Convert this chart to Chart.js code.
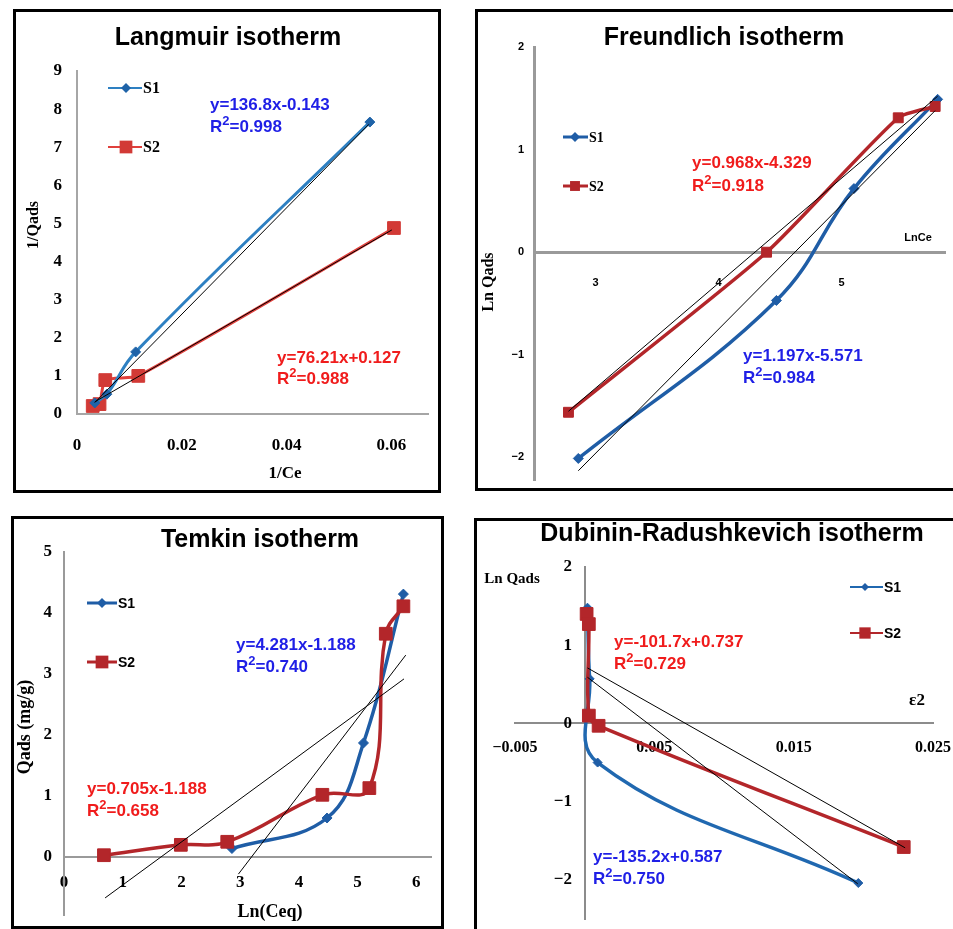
<!DOCTYPE html>
<html><head><meta charset="utf-8">
<script src="https://cdn.jsdelivr.net/npm/chart.js@4.4.1/dist/chart.umd.min.js"></script>
<style>
html,body{margin:0;padding:0;background:#fff;}
body{width:953px;height:929px;position:relative;overflow:hidden;}
.frame{position:absolute;border:3px solid #000;box-sizing:border-box;}
canvas{position:absolute;}
</style></head><body>
<div class="frame" style="left:13px;top:9px;width:428px;height:484px"></div>
<div class="frame" style="left:475px;top:9px;width:490px;height:482px"></div>
<div class="frame" style="left:11px;top:516px;width:433px;height:413px"></div>
<div class="frame" style="left:474px;top:518px;width:490px;height:420px"></div>
<canvas id="c1" width="422" height="478" style="left:16px;top:12px"></canvas>
<canvas id="c2" width="475" height="476" style="left:478px;top:12px"></canvas>
<canvas id="c3" width="427" height="407" style="left:14px;top:519px"></canvas>
<canvas id="c4" width="476" height="408" style="left:477px;top:521px"></canvas>
<script>
// ---------- DATA ----------
// Langmuir: 1/Ce vs 1/Qads
const lang_S1_x = [0.0034, 0.0057, 0.0112, 0.0559];
const lang_S1_y = [0.29, 0.52, 1.63, 7.66];
const lang_S2_x = [0.0030, 0.0043, 0.0054, 0.0117, 0.0605];
const lang_S2_y = [0.21, 0.26, 0.89, 1.00, 4.88];
const lang_fit1_x = [0.0034, 0.0557];
const lang_fit1_y = [0.30, 7.60];
const lang_fit2_x = [0.0034, 0.0601];
const lang_fit2_y = [0.32, 4.83];
const lang_xticks = [0, 0.02, 0.04, 0.06];
const lang_yticks = [0, 1, 2, 3, 4, 5, 6, 7, 8, 9];

// Freundlich: LnCe vs Ln Qads
const fr_S1_x = [2.86, 4.47, 5.10, 5.78];
const fr_S1_y = [-2.01, -0.47, 0.62, 1.49];
const fr_S2_x = [2.78, 4.39, 5.46, 5.76];
const fr_S2_y = [-1.56, 0.00, 1.31, 1.42];
const fr_fit1_x = [2.86, 5.76];
const fr_fit1_y = [-2.13, 1.38];
const fr_fit2_x = [2.78, 5.78];
const fr_fit2_y = [-1.55, 1.52];
const fr_xticks = [3, 4, 5];
const fr_yticks = [-2, -1, 0, 1, 2];

// Temkin: Ln(Ceq) vs Qads (mg/g)
const tk_S1_x = [2.86, 4.48, 5.10, 5.78];
const tk_S1_y = [0.14, 0.64, 1.87, 4.31];
const tk_S2_x = [0.68, 1.99, 2.78, 4.40, 5.20, 5.48, 5.78];
const tk_S2_y = [0.03, 0.20, 0.25, 1.02, 1.13, 3.66, 4.11];
const tk_fitA_x = [0.70, 5.79];
const tk_fitA_y = [-0.67, 2.92];
const tk_fitB_x = [2.97, 5.82];
const tk_fitB_y = [-0.28, 3.31];
const tk_xticks = [0, 1, 2, 3, 4, 5, 6];
const tk_yticks = [0, 1, 2, 3, 4, 5];

// Dubinin-Radushkevich: eps^2 vs Ln Qads
const dr_S1_x = [0.0002, 0.00036, 0.00093, 0.01964];
const dr_S1_y = [1.48, 0.57, -0.50, -2.04];
const dr_S2_x = [0.00014, 0.0003, 0.0003, 0.0010, 0.0229];
const dr_S2_y = [1.40, 1.27, 0.10, -0.03, -1.58];
const dr_fit1_x = [0.0002, 0.0196];
const dr_fit1_y = [0.59, -2.05];
const dr_fit2_x = [0.0002, 0.0230];
const dr_fit2_y = [0.71, -1.59];
const dr_xticks = [-0.005, 0.005, 0.015, 0.025];
const dr_yticks = [-2, -1, 0, 1, 2];

// ---------- helpers ----------
const SERIF = '"Liberation Serif", "Times New Roman", serif';
const SANS = '"Liberation Sans", Arial, sans-serif';
const BLUE_TXT = '#1f1fe6', RED_TXT = '#f01c1c';
const pts = (xs, ys) => xs.map((x, i) => ({x, y: ys[i]}));
const fmt = v => String(+Number(v).toFixed(4)).replace('-', '\u2212');

function series(label, xs, ys, color, mcolor, style, r, order, tension, bw) {
  return {label, data: pts(xs, ys), borderColor: color, backgroundColor: mcolor,
    pointBackgroundColor: mcolor, pointBorderColor: mcolor, pointStyle: style,
    pointRadius: r, pointBorderWidth: 1, borderWidth: bw, tension, order, clip: false, fill: false};
}
function fit(xs, ys) {
  return {label: 'fit', data: pts(xs, ys), borderColor: '#000', borderWidth: 1,
    pointRadius: 0, tension: 0, order: 0, clip: false, fill: false};
}
function axis(o) {
  return {
    type: 'linear', min: o.min, max: o.max, position: o.position,
    grid: {display: false, drawTicks: false},
    border: {display: true, color: o.bcolor, width: o.bwidth},
    ticks: {font: o.font, color: '#000', padding: o.pad, autoSkip: false, maxRotation: 0,
      callback: v => fmt(v) + (o.suffix || '')},
    afterBuildTicks: s => { s.ticks = o.vals.map(v => ({value: v})); },
    afterFit: s => {
      if (s.isHorizontal()) s.height = o.size; else s.width = o.size;
      s.paddingLeft = s.paddingRight = s.paddingTop = s.paddingBottom = 0;
    }
  };
}

// ---------- annotation drawing ----------
function richLine(ctx, x, y, parts, size, color, family) {
  ctx.fillStyle = color; ctx.textAlign = 'left'; ctx.textBaseline = 'alphabetic';
  let cx = x;
  parts.forEach(p => {
    const sz = p.sup ? Math.round(size * 0.78) : size;
    ctx.font = 'bold ' + sz + 'px ' + family;
    ctx.fillText(p.s, cx, p.sup ? y - size * 0.42 : y);
    cx += ctx.measureText(p.s).width;
  });
}
function equation(ctx, e) {
  richLine(ctx, e.x, e.y1, [{s: e.eq}], 17, e.color, SANS);
  richLine(ctx, e.x, e.y2, [{s: 'R'}, {s: '2', sup: true}, {s: '=' + e.r2}], 17, e.color, SANS);
}
function marker(ctx, style, x, y, r, color) {
  ctx.fillStyle = color; ctx.beginPath();
  if (style === 'rect') { const h = r * Math.SQRT1_2; ctx.rect(x - h, y - h, 2 * h, 2 * h); }
  else { ctx.moveTo(x, y - r); ctx.lineTo(x + r, y); ctx.lineTo(x, y + r); ctx.lineTo(x - r, y); ctx.closePath(); }
  ctx.fill();
}
function legendItem(ctx, l) {
  ctx.strokeStyle = l.color; ctx.lineWidth = l.lw; ctx.beginPath();
  ctx.moveTo(l.x1, l.y); ctx.lineTo(l.x2, l.y); ctx.stroke();
  marker(ctx, l.style, l.mx, l.y, l.r, l.mcolor);
  ctx.fillStyle = '#000'; ctx.font = l.font; ctx.textAlign = 'left'; ctx.textBaseline = 'middle';
  ctx.fillText(l.label, l.x2 + 1, l.y + 1);
}
function label(ctx, t) {
  ctx.save(); ctx.fillStyle = t.color || '#000'; ctx.font = t.font;
  ctx.textAlign = 'center'; ctx.textBaseline = t.base || 'middle';
  ctx.translate(t.x, t.y); if (t.rot) ctx.rotate(-Math.PI / 2);
  ctx.fillText(t.text, 0, 0); ctx.restore();
}

const DECOR = {
  c1: {
    labels: [
      {text: 'Langmuir isotherm', x: 212, y: 33, base: 'alphabetic', font: 'bold 25px ' + SANS},
      {text: '1/Qads', x: 18, y: 213, rot: true, font: 'bold 16px ' + SERIF},
      {text: '1/Ce', x: 269, y: 462, font: 'bold 17px ' + SERIF}
    ],
    eqs: [
      {eq: 'y=136.8x-0.143', r2: '0.998', x: 194, y1: 98, y2: 120, color: BLUE_TXT},
      {eq: 'y=76.21x+0.127', r2: '0.988', x: 261, y1: 351, y2: 372, color: RED_TXT}
    ],
    legend: [
      {label: 'S1', x1: 92, x2: 126, mx: 110, y: 76, style: 'rectRot', r: 5, color: '#2e80c2', mcolor: '#1f63a8', lw: 2, font: 'bold 16px ' + SERIF},
      {label: 'S2', x1: 92, x2: 126, mx: 110, y: 135, style: 'rect', r: 9, color: '#e0403c', mcolor: '#d23a36', lw: 2, font: 'bold 16px ' + SERIF}
    ]
  },
  c2: {
    labels: [
      {text: 'Freundlich isotherm', x: 246, y: 33, base: 'alphabetic', font: 'bold 25px ' + SANS},
      {text: 'Ln Qads', x: 11, y: 270, rot: true, font: 'bold 16px ' + SERIF},
      {text: 'LnCe', x: 440, y: 226, font: 'bold 11px ' + SANS}
    ],
    eqs: [
      {eq: 'y=0.968x-4.329', r2: '0.918', x: 214, y1: 156, y2: 179, color: RED_TXT},
      {eq: 'y=1.197x-5.571', r2: '0.984', x: 265, y1: 349, y2: 371, color: BLUE_TXT}
    ],
    legend: [
      {label: 'S1', x1: 85, x2: 110, mx: 97, y: 125, style: 'rectRot', r: 5, color: '#1f5da6', mcolor: '#1f5da6', lw: 3, font: 'bold 14px ' + SERIF},
      {label: 'S2', x1: 85, x2: 110, mx: 97, y: 174, style: 'rect', r: 7, color: '#b3262a', mcolor: '#b3262a', lw: 3, font: 'bold 14px ' + SERIF}
    ]
  },
  c3: {
    labels: [
      {text: 'Temkin isotherm', x: 246, y: 28, base: 'alphabetic', font: 'bold 25px ' + SANS},
      {text: 'Qads (mg/g)', x: 11, y: 208, rot: true, font: 'bold 18px ' + SERIF},
      {text: 'Ln(Ceq)', x: 256, y: 393, font: 'bold 18px ' + SERIF}
    ],
    eqs: [
      {eq: 'y=4.281x-1.188', r2: '0.740', x: 222, y1: 131, y2: 153, color: BLUE_TXT},
      {eq: 'y=0.705x-1.188', r2: '0.658', x: 73, y1: 275, y2: 297, color: RED_TXT}
    ],
    legend: [
      {label: 'S1', x1: 73, x2: 103, mx: 88, y: 84, style: 'rectRot', r: 5, color: '#1f5da6', mcolor: '#1f5da6', lw: 3, font: 'bold 14px ' + SANS},
      {label: 'S2', x1: 73, x2: 103, mx: 88, y: 143, style: 'rect', r: 9, color: '#b3262a', mcolor: '#b3262a', lw: 3, font: 'bold 14px ' + SANS}
    ]
  },
  c4: {
    labels: [
      {text: 'Dubinin-Radushkevich isotherm', x: 255, y: 20, base: 'alphabetic', font: 'bold 25px ' + SANS},
      {text: 'Ln Qads', x: 35, y: 58, font: 'bold 15px ' + SERIF},
      {text: '\u03b52', x: 440, y: 180, font: 'bold 17px ' + SERIF}
    ],
    eqs: [
      {eq: 'y=-101.7x+0.737', r2: '0.729', x: 137, y1: 126, y2: 148, color: RED_TXT},
      {eq: 'y=-135.2x+0.587', r2: '0.750', x: 116, y1: 341, y2: 363, color: BLUE_TXT}
    ],
    legend: [
      {label: 'S1', x1: 373, x2: 406, mx: 388, y: 66, style: 'rectRot', r: 4, color: '#2068b0', mcolor: '#1f5da6', lw: 2, font: 'bold 14px ' + SANS},
      {label: 'S2', x1: 373, x2: 406, mx: 388, y: 112, style: 'rect', r: 8, color: '#b3262a', mcolor: '#b3262a', lw: 2, font: 'bold 14px ' + SANS}
    ]
  }
};
const decorPlugin = {
  id: 'decor',
  afterDraw(chart) {
    const d = DECOR[chart.canvas.id]; if (!d) return;
    const ctx = chart.ctx; ctx.save();
    d.legend.forEach(l => legendItem(ctx, l));
    d.eqs.forEach(e => equation(ctx, e));
    d.labels.forEach(t => label(ctx, t));
    ctx.restore();
  }
};

function makeChart(id, datasets, scales, padding) {
  return new Chart(document.getElementById(id), {
    type: 'line',
    data: {datasets},
    options: {responsive: false, animation: false, events: [], layout: {padding}, scales,
      plugins: {legend: {display: false}, tooltip: {enabled: false}}},
    plugins: [decorPlugin]
  });
}

const B1 = '#2e80c2', M1 = '#1f63a8', R1 = '#e0403c', RM1 = '#d23a36';
const BL = '#1f5da6', RD = '#b3262a';
const tickSerif = {family: SERIF, size: 17, weight: 'bold'};
const tickSans = {family: SANS, size: 11, weight: 'bold'};

// Langmuir
makeChart('c1', [
  fit(lang_fit1_x, lang_fit1_y), fit(lang_fit2_x, lang_fit2_y),
  series('S1', lang_S1_x, lang_S1_y, B1, M1, 'rectRot', 5, 1, 0.4, 3),
  series('S2', lang_S2_x, lang_S2_y, R1, RM1, 'rect', 9, 2, 0.2, 3)
], {
  x: axis({min: 0, max: 0.067, position: 'bottom', vals: lang_xticks, size: 76, font: tickSerif, pad: 21, bcolor: '#a6a6a6', bwidth: 2}),
  y: axis({min: 0, max: 9, position: 'left', vals: lang_yticks, size: 61, font: tickSerif, pad: 15, bcolor: '#a6a6a6', bwidth: 2})
}, {left: 0, right: 1, top: 59, bottom: 0});

// Freundlich
makeChart('c2', [
  fit(fr_fit1_x, fr_fit1_y), fit(fr_fit2_x, fr_fit2_y),
  series('S1', fr_S1_x, fr_S1_y, BL, BL, 'rectRot', 5, 2, 0.4, 3.5),
  series('S2', fr_S2_x, fr_S2_y, RD, RD, 'rect', 7, 1, 0.2, 3.5)
], {
  x: axis({min: 2.5, max: 5.84, position: {y: 0}, vals: fr_xticks, size: 0, font: tickSans, pad: 24, bcolor: '#9a9a9a', bwidth: 3}),
  y: axis({min: -2.22, max: 2, position: 'left', vals: fr_yticks, size: 56, font: tickSans, pad: 10, bcolor: '#9a9a9a', bwidth: 3})
}, {left: 0, right: 0, top: 35, bottom: 1});

// Temkin
makeChart('c3', [
  fit(tk_fitA_x, tk_fitA_y), fit(tk_fitB_x, tk_fitB_y),
  series('S1', tk_S1_x, tk_S1_y, BL, BL, 'rectRot', 5, 2, 0.4, 3.5),
  series('S2', tk_S2_x, tk_S2_y, RD, RD, 'rect', 9, 1, 0.4, 3.5)
], {
  x: axis({min: 0, max: 6.25, position: {y: 0}, vals: tk_xticks, size: 0, font: tickSerif, pad: 15, bcolor: '#9a9a9a', bwidth: 2}),
  y: axis({min: -0.95, max: 5, position: 'left', vals: tk_yticks, size: 50, font: tickSerif, pad: 12, bcolor: '#9a9a9a', bwidth: 2})
}, {left: 0, right: 0, top: 33, bottom: 11});

// Dubinin-Radushkevich
makeChart('c4', [
  fit(dr_fit1_x, dr_fit1_y), fit(dr_fit2_x, dr_fit2_y),
  series('S1', dr_S1_x, dr_S1_y, '#2068b0', BL, 'rectRot', 4.5, 2, 0.4, 3.5),
  series('S2', dr_S2_x, dr_S2_y, RD, RD, 'rect', 9, 1, 0.4, 3.5)
], {
  x: axis({min: -0.005, max: 0.025, position: {y: 0}, vals: dr_xticks, size: 0, font: {family: SERIF, size: 16, weight: 'bold'}, pad: 15, bcolor: '#8c8c8c', bwidth: 2}),
  y: axis({min: -2.5, max: 2, position: {x: 0}, vals: dr_yticks, size: 0, font: {family: SERIF, size: 17, weight: 'bold'}, pad: 10, bcolor: '#8c8c8c', bwidth: 2, suffix: '   '})
}, {left: 38, right: 20, top: 46, bottom: 10});
</script>
</body></html>
